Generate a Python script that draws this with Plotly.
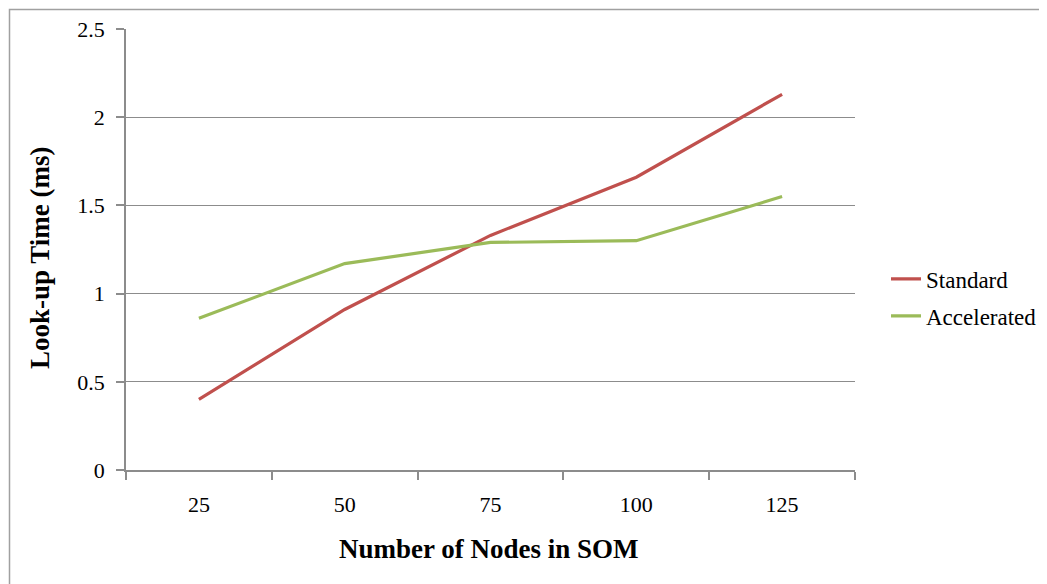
import plotly.graph_objects as go

categories = ["25", "50", "75", "100", "125"]
standard = [0.40, 0.91, 1.33, 1.66, 2.13]
accelerated = [0.86, 1.17, 1.29, 1.30, 1.55]
y_ticks = [0, 0.5, 1, 1.5, 2, 2.5]
y_tick_labels = ["0", "0.5", "1", "1.5", "2", "2.5"]

W, H = 1047, 584
OFF = 8  # page body margin offset
L, R, T, B = 126, 855, 29, 470  # target page pixel positions of the plot area

def px_x(px):
    return (px - L) / (R - L)

def px_y(py):
    return (B - py) / (B - T)

font_family = "Liberation Serif"
grid_col = "#8c8c8c"

fig = go.Figure()
fig.add_trace(go.Scatter(x=categories, y=standard, mode="lines", name="Standard",
                         line=dict(color="#C0504D", width=3.2), legendgroup="a"))
fig.add_trace(go.Scatter(x=categories, y=accelerated, mode="lines", name="Accelerated",
                         line=dict(color="#9BBB59", width=3.2), legendgroup="b"))

fig.update_layout(
    width=W, height=H,
    margin=dict(l=L - OFF, r=W - R + OFF, t=T - OFF, b=H - B + OFF, pad=0, autoexpand=False),
    paper_bgcolor="white", plot_bgcolor="white",
    font=dict(family=font_family, size=22, color="#000000"),
    showlegend=True,
    legend=dict(xref="container", yref="container",
                x=(886 - OFF) / W, y=1 - (297.5 - OFF) / H, xanchor="left", yanchor="middle",
                font=dict(size=23, family=font_family), tracegroupgap=4,
                bgcolor="rgba(0,0,0,0)", traceorder="grouped"),
    xaxis=dict(type="category", showgrid=False, showline=True, linecolor=grid_col, linewidth=1.5,
               ticks="outside", tickson="boundaries", ticklen=8, tickcolor=grid_col, tickwidth=1.5,
               tickfont=dict(size=22), ticklabelstandoff=14, range=[-0.5, 4.5], fixedrange=True),
    yaxis=dict(range=[0, 2.5], tickvals=y_ticks, ticktext=y_tick_labels, showgrid=True,
               gridcolor=grid_col, gridwidth=1.2, showline=True, linecolor=grid_col, linewidth=1.5,
               ticks="outside", ticklen=8, tickcolor=grid_col, tickwidth=1.5,
               tickfont=dict(size=22), ticklabelstandoff=7, zeroline=False),
    annotations=[
        dict(text="<b>Number of Nodes in SOM</b>", xref="paper", yref="paper",
             x=px_x(489), y=px_y(549), xanchor="center", yanchor="middle", showarrow=False,
             font=dict(size=27, family=font_family, color="#000000")),
        dict(text="<b>Look-up Time (ms)</b>", xref="paper", yref="paper", textangle=-90,
             x=px_x(40), y=px_y(258), xanchor="center", yanchor="middle", showarrow=False,
             font=dict(size=27, family=font_family, color="#000000")),
    ],
    shapes=[
        dict(type="rect", xref="paper", yref="paper", x0=px_x(9.5), x1=px_x(1070),
             y0=px_y(620), y1=px_y(9.5), line=dict(color="#a0a0a0", width=1.5), layer="below"),
    ],
)

fig.write_html("out.html")
